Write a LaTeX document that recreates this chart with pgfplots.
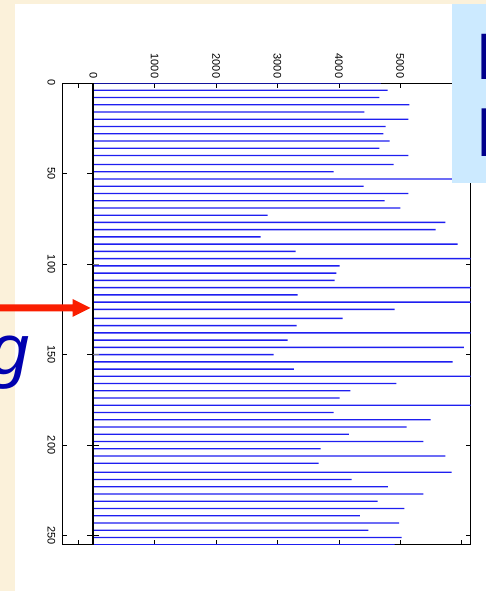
\documentclass[border=0pt]{standalone}
\usepackage{pgfplots}
\pgfplotsset{compat=1.18}
\usepackage{pgfplotstable}
\usepackage{fontspec}
\setmainfont{Liberation Sans}

\definecolor{beige}{RGB}{251,241,218}
\definecolor{boxblue}{RGB}{204,234,255}
\definecolor{navy}{RGB}{0,0,140}
\definecolor{gblue}{RGB}{0,0,175}
\definecolor{arrowred}{RGB}{250,30,0}
\definecolor{stem}{RGB}{30,30,240}

% grey-level histogram: 64 occupied levels spread over 0..255
\pgfplotstableread{
bin count
0 4686
4 4795
8 4659
12 5148
16 4415
20 5131
24 4762
28 4724
32 4827
36 4659
40 5131
45 4892
49 3915
53 6300
57 4404
61 5131
65 4746
69 5001
73 2840
77 5734
81 5577
85 2726
89 5935
93 3296
97 6300
101 4013
105 3958
109 3931
113 6300
117 3329
121 6300
125 4909
130 4062
134 3312
138 6300
142 3166
146 6038
150 2938
154 5854
158 3269
162 6300
166 4936
170 4187
174 4013
178 6300
182 3915
186 5495
190 5104
194 4165
198 5376
202 3703
206 5734
210 3671
215 5837
219 4208
223 4800
227 5376
231 4632
235 5066
239 4344
243 4980
247 4480
251 5023
255 4909
}\histdata

\begin{document}
\begin{tikzpicture}
\useasboundingbox (0,0) rectangle (486bp,591bp);
\clip (0,0) rectangle (486bp,591bp);
\fill[beige] (0,0) rectangle (486bp,591bp);
\fill[white] (15bp,0) rectangle (486bp,587bp);

\begin{axis}[
  at={(62bp,46.3bp)}, anchor=south west,
  scale only axis, width=408.7bp, height=461.7bp,
  xmin=-510, xmax=6148, ymin=0, ymax=255,
  y dir=reverse,
  xtick={0,1000,...,6000}, ytick={0,50,...,250},
  extra x ticks={-250}, extra x tick labels={},
  xticklabel pos=upper,
  scaled x ticks=false,
  /pgf/number format/assume math mode=true,
  /pgf/number format/1000 sep={},
  xticklabel style={rotate=-90, anchor=east, font=\fontsize{11}{13}\selectfont},
  yticklabel style={rotate=-90, anchor=north, font=\fontsize{11}{13}\selectfont},
  xticklabel shift=1.3bp,
  yticklabel shift=3.3bp,
  major tick length=5bp,
  tick style={black, line width=0.6bp},
  axis line style={line width=0.9bp},
]
\addplot[xbar, bar width=1.35bp, bar shift=0pt, fill=stem, draw=none]
  table[x=count, y=bin] {\histdata};
% baseline of the stems with its own ticks
\draw[line width=2bp, black] (axis cs:0,0) -- (axis cs:0,255);
\pgfplotsinvokeforeach{50,100,150,200,250}{
  \draw[line width=0.6bp] (axis cs:-98,#1) -- (axis cs:0,#1);
}
\pgfplotsinvokeforeach{100,150}{
  \draw[line width=0.8bp, gray] (axis cs:0,#1) -- (axis cs:85,#1);
}
\pgfplotsinvokeforeach{200,250}{
  \draw[line width=0.8bp, black] (axis cs:0,#1) -- (axis cs:85,#1);
}
\end{axis}

% callout box at the upper right
\fill[boxblue] (452bp,408bp) rectangle (486bp,587bp);
\node[anchor=base west, inner sep=0, text=navy, font=\fontsize{66}{70}\selectfont]
  at (476.5bp,511bp) {H};
\node[anchor=base west, inner sep=0, text=navy, font=\fontsize{66}{70}\selectfont]
  at (477.2bp,434bp) {h};

% word ending on the left
\node[anchor=base east, inner sep=0, text=gblue, font=\fontsize{72}{80}\selectfont\itshape]
  at (30bp,216bp) {g};

% red pointer
\fill[arrowred] (0,279.5bp) -- (72.5bp,279.5bp) -- (72.5bp,274bp) -- (90.5bp,283bp)
  -- (72.5bp,292bp) -- (72.5bp,286.5bp) -- (0,286.5bp) -- cycle;
\end{tikzpicture}
\end{document}
